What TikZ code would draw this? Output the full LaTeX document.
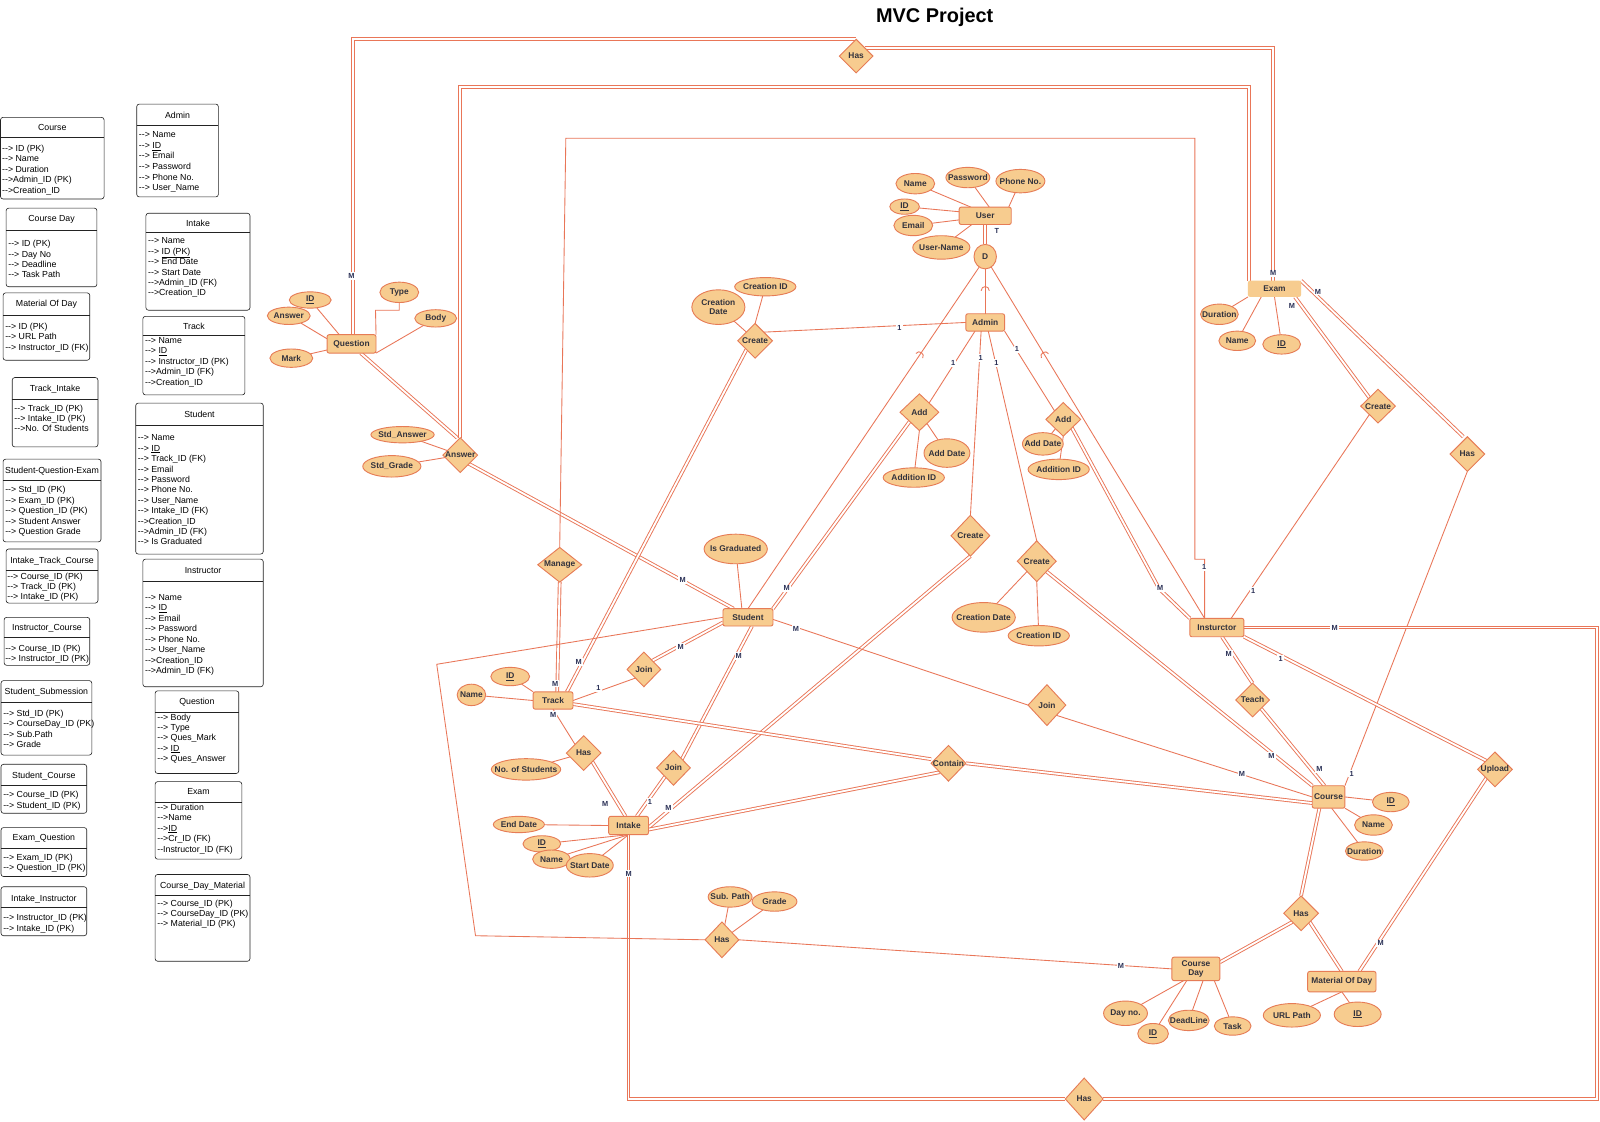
\documentclass[tikz,border=0pt]{standalone}
\usepackage{fontspec}
\setmainfont{Liberation Sans}[Ligatures=TeXOff]
\usetikzlibrary{shapes.geometric}
\pgfdeclarelayer{paper}
\pgfdeclarelayer{lines}
\pgfsetlayers{paper,lines,main}

\definecolor{efill}{RGB}{247,204,143}
\definecolor{ebord}{RGB}{230,124,86}
\definecolor{lnc}{RGB}{233,118,88}
\definecolor{etxt}{RGB}{50,50,60}
\definecolor{cardc}{RGB}{42,48,86}
\definecolor{tline}{RGB}{35,35,35}

\tikzset{
  shapebase/.style={draw=ebord, fill=efill, line width=0.9pt, inner sep=0pt, outer sep=0pt},
  ertext/.style={font=\fontsize{8.2}{9.4}\selectfont\bfseries, text=etxt, align=center, inner sep=0pt},
  ent/.style={shapebase, rectangle, rounded corners=2pt, ertext},
  attr/.style={shapebase, ellipse, label={[ertext]center:#1}},
  rel/.style={shapebase, diamond, label={[ertext]center:#1}},
  ln/.style={draw=lnc, line width=0.85pt},
  dbl/.style={draw=lnc, line width=0.9pt, double=white, double distance=1.8pt},
  crd/.style={font=\fontsize{7.2}{8}\selectfont\bfseries, text=cardc, fill=white, inner sep=1.2pt},
  tframe/.style={draw=tline, line width=0.6pt, rounded corners=2.5pt},
  tdiv/.style={draw=tline, line width=0.6pt},
  thead/.style={font=\fontsize{8.6}{9}\selectfont, text=black, inner sep=0pt, anchor=base},
  trow/.style={font=\fontsize{8.6}{9}\selectfont, text=black, inner sep=0pt, anchor=base west},
}

% relational table: name, x1, y1, x2, y2, header y, divider y, header text
\newcommand\dbtable[8]{%
  \draw[tframe] (#2,#3) rectangle (#4,#5);
  \draw[tdiv] (#2,#7) -- (#4,#7);
  \node[thead] (#1) at ({(#2+#4)/2},{#6+3}) {#8};
}
% table rows: name, x, first row y, row step, list of rows
\newcommand\dbrows[5]{%
  \foreach \rowtext [count=\ri] in {#5}
    \node[trow] (#1-\ri) at (#2,{#3+(\ri-1)*#4+3}) {\rowtext};
}

\begin{document}
\begin{tikzpicture}[x=1pt, y=-1pt]
\useasboundingbox (0,0) rectangle (1568,1099);
\begin{pgfonlayer}{paper}
  \fill[white] (0,0) rectangle (1568,1099);
\end{pgfonlayer}

\node[font=\fontsize{19.5}{20}\selectfont\bfseries, anchor=base] (title) at (916,22) {MVC Project};

% ---------------- relational tables ----------------
\dbtable{tcourse}{0.5}{115}{102}{195}{125}{135}{Course}
\dbrows{tcourse}{2}{145}{10.3}{{--> ID (PK)},{--> Name},{--> Duration},{-->Admin\_ID (PK)},{-->Creation\_ID}}

\dbtable{tadmin}{134}{102}{214}{193}{113}{123}{Admin}
\dbrows{tadmin}{136}{132}{10.4}{{--> Name},{--> \underline{ID}},{--> Email},{--> Password},{--> Phone No.},{--> User\_Name}}

\dbtable{tcday}{6}{204}{95}{281}{214}{226}{Course Day}
\dbrows{tcday}{8}{239}{10}{{--> ID (PK)},{--> Day No},{--> Deadline},{--> Task Path}}

\dbtable{tintake}{143}{209}{245}{304}{219}{228}{Intake}
\dbrows{tintake}{145}{236}{10.2}{{--> Name},{--> \underline{ID (PK)}},{--> End Date},{--> Start Date},{-->Admin\_ID (FK)},{-->Creation\_ID}}

\dbtable{tmod}{3}{287}{88}{353}{297}{309}{Material Of Day}
\dbrows{tmod}{5}{320}{10}{{--> ID (PK)},{--> URL Path},{--> Instructor\_ID (FK)}}

\dbtable{ttrack}{140}{310}{240}{387}{320}{329}{Track}
\dbrows{ttrack}{142}{333.5}{10.2}{{--> Name},{--> \underline{ID}},{--> Instructor\_ID (PK)},{-->Admin\_ID (FK)},{-->Creation\_ID}}

\dbtable{ttrin}{12}{370}{96}{438}{381}{391}{Track\_Intake}
\dbrows{ttrin}{14}{400}{10}{{--> Track\_ID (PK)},{--> Intake\_ID (PK)},{-->No. Of Students}}

\dbtable{tsqe}{3}{450}{99}{531}{461}{471}{Student-Question-Exam}
\dbrows{tsqe}{5}{480}{10.25}{{--> Std\_ID (PK)},{--> Exam\_ID (PK)},{--> Question\_ID (PK)},{--> Student Answer},{--> Question Grade}}

\dbtable{tstudent}{133}{395}{258}{543}{406}{417}{Student}
\dbrows{tstudent}{135}{429}{10.2}{{--> Name},{--> \underline{ID}},{--> Track\_ID (FK)},{--> Email},{--> Password},{--> Phone No.},{--> User\_Name},{--> Intake\_ID (FK)},{-->Creation\_ID},{-->Admin\_ID (FK)},{--> Is Graduated}}

\dbtable{titc}{6}{538}{96}{591}{549}{559}{Intake\_Track\_Course}
\dbrows{titc}{7}{564.5}{10.2}{{--> Course\_ID (PK)},{--> Track\_ID (PK)},{--> Intake\_ID (PK)}}

\dbtable{tinstr}{140}{548}{258}{673}{559}{570}{Instructor}
\dbrows{tinstr}{142}{585}{10.3}{{--> Name},{--> \underline{ID}},{--> Email},{--> Password},{--> Phone No.},{--> User\_Name},{-->Creation\_ID},{-->Admin\_ID (FK)}}

\dbtable{tic}{4}{605}{88}{652}{615}{625}{Instructor\_Course}
\dbrows{tic}{5}{635}{10.5}{{--> Course\_ID (PK)},{--> Instructor\_ID (PK)}}

\dbtable{tss}{1}{667}{90}{740}{678}{688}{Student\_Submession}
\dbrows{tss}{3}{699}{10.3}{{--> Std\_ID (PK)},{--> CourseDay\_ID (PK)},{--> Sub.Path},{--> Grade}}

\dbtable{tquestion}{152}{677}{234}{758}{687}{698}{Question}
\dbrows{tquestion}{154}{703}{10}{{--> Body},{--> Type},{--> Ques\_Mark},{--> \underline{ID}},{--> Ques\_Answer}}

\dbtable{tsc}{1}{749}{85}{797}{760}{770}{Student\_Course}
\dbrows{tsc}{3}{779}{10}{{--> Course\_ID (PK)},{--> Student\_ID (PK)}}

\dbtable{texam}{152}{766}{237}{842}{776}{786}{Exam}
\dbrows{texam}{154}{791}{10.25}{{--> Duration},{-->Name},{-->\underline{ID}},{-->Cr\_ID (FK)},{--Instructor\_ID (FK)}}

\dbtable{teq}{1}{811}{85}{859}{821}{831}{Exam\_Question}
\dbrows{teq}{3}{840}{10.5}{{--> Exam\_ID (PK)},{--> Question\_ID (PK)}}

\dbtable{tii}{1}{869}{85}{917}{880}{889}{Intake\_Instructor}
\dbrows{tii}{3}{899}{10.5}{{--> Instructor\_ID (PK)},{--> Intake\_ID (PK)}}

\dbtable{tcdm}{152}{857}{245}{942}{868}{877}{Course\_Day\_Material}
\dbrows{tcdm}{154}{885}{10}{{--> Course\_ID (PK)},{--> CourseDay\_ID (PK)},{--> Material\_ID (PK)}}

% ---------------- entities ----------------
\node[ent, minimum width=51, minimum height=17] (user) at (965.5,211.5) {User};
\node[ent, minimum width=38, minimum height=17] (admin) at (965.5,316) {Admin};
\node[ent, draw=none, minimum width=52, minimum height=16] (exam) at (1249,283) {Exam};
\node[ent, minimum width=48, minimum height=18] (question) at (344.5,337) {Question};
\node[ent, minimum width=49, minimum height=17] (student) at (733,605) {Student};
\node[ent, minimum width=39, minimum height=17] (track) at (542,686.5) {Track};
\node[ent, minimum width=39, minimum height=18] (intake) at (616,809) {Intake};
\node[ent, minimum width=53, minimum height=18] (instr) at (1192.5,615) {Insturctor};
\node[ent, minimum width=32, minimum height=22] (course) at (1302,781) {Course};
\node[ent, minimum width=47, minimum height=23] (cday) at (1172,949.5) {Course\\Day};
\node[ent, minimum width=67, minimum height=20] (mod) at (1315,962) {Material Of Day};

\node[shapebase, ellipse, minimum width=22, minimum height=24, label={[ertext]center:D}] (D) at (965.5,251.5) {};

% ---------------- relationships ----------------
\node[rel=Has, minimum width=33, minimum height=33] (hasTop) at (839,55) {};
\node[rel=Create, minimum width=34, minimum height=34] (createA) at (740,334) {};
\node[rel=Answer, minimum width=34, minimum height=34] (answer) at (451,446) {};
\node[rel=Manage, minimum width=43, minimum height=34] (manage) at (548.5,553.5) {};
\node[rel=Add, minimum width=38, minimum height=36] (addL) at (901,404) {};
\node[rel=Add, minimum width=34, minimum height=33] (addR) at (1042,411) {};
\node[rel=Create, minimum width=38, minimum height=40] (createM) at (951,525) {};
\node[rel=Create, minimum width=38, minimum height=40] (createR) at (1016,550) {};
\node[rel=Create, minimum width=34, minimum height=33] (createE) at (1350.5,398) {};
\node[rel=Has, minimum width=34, minimum height=34] (hasE) at (1438,445) {};
\node[rel=Join, minimum width=33, minimum height=34] (joinT) at (631,656) {};
\node[rel=Join, minimum width=37, minimum height=40] (joinC) at (1026,691) {};
\node[rel=Has, minimum width=34, minimum height=34] (hasTI) at (572,738) {};
\node[rel=Join, minimum width=33, minimum height=34] (joinI) at (660,752.5) {};
\node[rel=Contain, minimum width=34, minimum height=35] (contain) at (929.5,748) {};
\node[rel=Teach, minimum width=33, minimum height=33] (teach) at (1227.5,686) {};
\node[rel=Upload, minimum width=34, minimum height=34] (upload) at (1465,754) {};
\node[rel=Has, minimum width=33, minimum height=35] (hasSD) at (707.5,921) {};
\node[rel=Has, minimum width=34, minimum height=34] (hasC) at (1275,895) {};
\node[rel=Has, minimum width=37, minimum height=41] (hasB) at (1062.5,1077) {};

% ---------------- attributes ----------------
\node[attr=Name, minimum width=38, minimum height=20] (uname) at (897,180) {};
\node[attr=Password, minimum width=43, minimum height=20] (upass) at (948.5,174) {};
\node[attr=Phone No., minimum width=48, minimum height=23] (uphone) at (1000,177.5) {};
\node[attr=\underline{ID}, minimum width=29, minimum height=15] (uid) at (886.5,202.5) {};
\node[attr=Email, minimum width=38, minimum height=20] (uemail) at (895,221) {};
\node[attr=User-Name, minimum width=56, minimum height=23] (uuname) at (922.5,242.5) {};
\node[attr=Creation ID, minimum width=60, minimum height=18] (cid1) at (750,281) {};
\node[attr={Creation\\Date}, minimum width=52, minimum height=34] (cdate1) at (704,301) {};
\node[attr=\underline{ID}, minimum width=41, minimum height=16] (qid) at (304,294) {};
\node[attr=Answer, minimum width=42, minimum height=17] (qans) at (283,309.5) {};
\node[attr=Type, minimum width=38, minimum height=20] (qtype) at (391.3,286.5) {};
\node[attr=Body, minimum width=41, minimum height=17] (qbody) at (427,312) {};
\node[attr=Mark, minimum width=42, minimum height=18] (qmark) at (285.5,351) {};
\node[attr=Std\_Answer, minimum width=62, minimum height=16] (stdans) at (394.5,426) {};
\node[attr=Std\_Grade, minimum width=57, minimum height=21] (stdgrade) at (384,457) {};
\node[attr=Add Date, minimum width=45, minimum height=28] (adddateL) at (928,444) {};
\node[attr=Addition ID, minimum width=60, minimum height=19] (addidL) at (895.5,468) {};
\node[attr=Add Date, minimum width=40, minimum height=22] (adddateR) at (1022,435) {};
\node[attr=Addition ID, minimum width=60, minimum height=20] (addidR) at (1037.5,460) {};
\node[attr=Is Graduated, minimum width=62, minimum height=29] (isgrad) at (721,538) {};
\node[attr=Creation Date, minimum width=62, minimum height=29] (cdate2) at (964,605) {};
\node[attr=Creation ID, minimum width=60, minimum height=20] (cid2) at (1018,623) {};
\node[attr=Duration, minimum width=37, minimum height=20] (eduration) at (1195,308) {};
\node[attr=Name, minimum width=36, minimum height=19] (ename) at (1212.5,334) {};
\node[attr=\underline{ID}, minimum width=37, minimum height=19] (eid) at (1256,337.5) {};
\node[attr=\underline{ID}, minimum width=38, minimum height=18] (tid) at (500,663) {};
\node[attr=Name, minimum width=28, minimum height=21] (tname) at (462,681) {};
\node[attr=No. of Students, minimum width=68, minimum height=21] (nostd) at (515.5,754) {};
\node[attr=End Date, minimum width=50, minimum height=16] (enddate) at (508.5,808) {};
\node[attr=\underline{ID}, minimum width=37, minimum height=16] (iid) at (531,827) {};
\node[attr=Name, minimum width=37, minimum height=18] (iname) at (540.5,842) {};
\node[attr=Start Date, minimum width=46, minimum height=23] (startdate) at (578,848) {};
\node[attr=\underline{ID}, minimum width=36, minimum height=19] (crid) at (1363,786) {};
\node[attr=Name, minimum width=37, minimum height=20] (crname) at (1346,808.5) {};
\node[attr=Duration, minimum width=37, minimum height=18] (crdur) at (1337,834) {};
\node[attr=Grade, minimum width=44, minimum height=19] (grade) at (759,883.5) {};
\node[attr=Sub. Path, minimum width=43, minimum height=20] (subpath) at (715.5,879) {};
\node[attr=Day no., minimum width=43, minimum height=24] (dayno) at (1103,993) {};
\node[attr=\underline{ID}, minimum width=30, minimum height=20] (cdid) at (1130,1013) {};
\node[attr=DeadLine, minimum width=40, minimum height=20] (deadline) at (1165,1000) {};
\node[attr=Task, minimum width=36, minimum height=18] (task) at (1208,1005.5) {};
\node[attr=URL Path, minimum width=56, minimum height=23] (urlpath) at (1266,995) {};
\node[attr=\underline{ID}, minimum width=46, minimum height=24] (modid) at (1330.5,994) {};

% ---------------- connectors ----------------
\begin{pgfonlayer}{lines}
% attribute links
\draw[ln] (uname) -- ([xshift=-14pt]user.north);
\draw[ln] (upass) -- ([xshift=4pt]user.north);
\draw[ln] (uphone) -- ([xshift=23pt]user.north);
\draw[ln] (uid) -- ([yshift=4pt]user.west);
\draw[ln] (uemail) -- ([yshift=-4pt]user.west);
\draw[ln] (uuname) -- ([xshift=-13pt]user.south);
\draw[ln] (cid1) -- (createA.north);
\draw[ln] (cdate1) -- (createA.north west);
\draw[ln] (qid) -- ([xshift=-12pt]question.north);
\draw[ln] (qans) -- ([yshift=5pt]question.west);
\draw[ln] (qmark) -- ([yshift=-6pt]question.west);
\draw[ln] (qbody) -- (question.south east);
\draw[ln] (question.north east) -- (368,304) -| (qtype.south);
\draw[ln] (stdans) -- (answer);
\draw[ln] (stdgrade) -- (answer);
\draw[ln] (adddateL) -- (addL);
\draw[ln] (addidL) -- (addL.south);
\draw[ln] (adddateR) -- (addR);
\draw[ln] (addidR) -- (addR.south);
\draw[ln] (isgrad) -- ([xshift=-6pt]student.north);
\draw[ln] (cdate2) -- (createR);
\draw[ln] (cid2) -- (createR.south);
\draw[ln] (eduration) -- (exam.south west);
\draw[ln] (ename) -- ([xshift=-13pt]exam.south);
\draw[ln] (eid) -- (exam.south);
\draw[ln] (tid) -- (track.north west);
\draw[ln] (tname) -- (track.west);
\draw[ln] (nostd) -- (hasTI);
\draw[ln] (enddate) -- (intake.west);
\draw[ln] (iid) -- (intake.south);
\draw[ln] (iname) -- (intake.south);
\draw[ln] (startdate) -- (intake.south);
\draw[ln] (crid) -- (course.east);
\draw[ln] (crname) -- (course.south east);
\draw[ln] (crdur) -- ([xshift=3pt]course.south);
\draw[ln] (subpath) -- (hasSD);
\draw[ln] (grade) -- (hasSD);
\draw[ln] (dayno) -- ([xshift=-12pt]cday.south);
\draw[ln] (cdid) -- ([xshift=-9pt]cday.south);
\draw[ln] (deadline) -- ([xshift=7pt]cday.south);
\draw[ln] (task) -- ([xshift=18pt]cday.south);
\draw[ln] (urlpath) -- (mod.south);
\draw[ln] (modid) -- (mod.south);

% specialisation of User
\draw[dbl] (user.south) -- (D.north);
\draw[ln] (D.south) -- (admin.north);
\draw[ln] (D.240) -- (student.north);
\draw[ln] (D.300) -- ([xshift=-12pt]instr.north);
\draw[ln] (969.5,285) .. controls (969.5,279.5) and (961.5,279.5) .. (961.5,285);
\draw[ln] (904.2,350.9) .. controls (907.0,346.8) and (900.4,342.3) .. (897.6,346.4);
\draw[ln] (1027.5,346.6) .. controls (1024.9,342.4) and (1018.0,346.5) .. (1020.6,350.8);

% relationships
\draw[dbl] ([xshift=1.5pt]question.north) |- (hasTop.north);
\draw[dbl] (hasTop.north east) -| ([xshift=-1.5pt]exam.north);
\draw[dbl] (answer.north) |- (1224,85.5) -- ([xshift=1pt]exam.north west);
\draw[dbl] ([xshift=9pt]question.south) -- ([xshift=-3pt]answer.north);
\draw[dbl] (answer.south east) -- ([xshift=-14pt]student.north);
\draw[dbl] (manage.south) -- ([xshift=4pt]track.north);
\draw[ln] (manage.north) -- (554.5,135.5) -- (1171,135.5) -- (1171,548) -| ([xshift=-12pt]instr.north);
\draw[ln] (admin.west) -- (createA.north east);
\draw[dbl] (createA.south west) -- ([xshift=-6pt]track.north east);
\draw[ln] ([xshift=-10pt]admin.south) -- (addL.north east);
\draw[dbl] (addL.south west) -- (student.north east);
\draw[ln] ([xshift=-4pt]admin.south) -- (createM.north);
\draw[dbl] (createM.south) -- ([yshift=-2pt]intake.east);
\draw[ln] ([xshift=3pt]admin.south) -- (createR.north);
\draw[dbl] (createR.south east) -- (course.north west);
\draw[ln] (admin.south east) -- (addR.north west);
\draw[dbl] (addR.south east) -- (1136,577) -- (instr.north west);
\draw[dbl] ([xshift=-6pt]exam.south east) -- (createE.north west);
\draw[ln] (createE.south west) -- ([xshift=14pt]instr.north);
\draw[dbl] (exam.north east) -- ([xshift=-4pt]hasE.north);
\draw[ln] (hasE.south) -- (course.north east);
\draw[dbl] (instr.east) -- (1565,615) -- (1565,1077) -- (hasB.east);
\draw[dbl] (hasB.west) -| (intake.south);
\draw[dbl] ([xshift=5pt]instr.south) -- (teach.north);
\draw[dbl] (teach.south east) -- ([xshift=-4pt]course.north);
\draw[dbl] (instr.south east) -- (upload.north west);
\draw[dbl] (upload.south west) -- ([xshift=17pt]mod.north);
\draw[dbl] ([yshift=-5pt]student.west) -- (joinT.north east);
\draw[ln] (joinT.south west) -- (track.east);
\draw[ln] ([yshift=-2pt]student.east) -- (joinC.west);
\draw[ln] (joinC.south east) -- (course.west);
\draw[dbl] ([xshift=4pt]student.south) -- (joinI.north east);
\draw[dbl] (joinI.south west) -- ([xshift=8pt]intake.north);
\draw[ln] (track.south) -- (hasTI.north west);
\draw[dbl] (hasTI.south east) -- ([xshift=-3pt]intake.north);
\draw[dbl] ([yshift=-3.5pt]track.east) -- ([yshift=4pt]contain.west);
\draw[dbl] ([yshift=-4pt]intake.east) -- (contain.south west);
\draw[dbl] (contain.east) -- ([yshift=-6pt]course.west);
\draw[ln] (student.west) -- (428,651) -- (466,917) -- (hasSD.west);
\draw[ln] (hasSD.east) -- (cday.west);
\draw[dbl] ([xshift=-9pt]course.south) -- (hasC.north);
\draw[dbl] (hasC.south west) -- ([yshift=-5pt]cday.north east);
\draw[dbl] (hasC.south east) -- (mod.north);
\end{pgfonlayer}

% ---------------- cardinalities ----------------
\node[crd] (k1) at (344.5,270.5) {M};
\node[crd] (k2) at (1247.6,268) {M};
\node[crd] (k3) at (1291.5,285.8) {M};
\node[crd] (k4) at (1266,299.6) {M};
\node[crd] (k5) at (669,568.5) {M};
\node[crd, fill=none] (k6) at (977,226.4) {T};
\node[crd] (k7) at (881.5,321.8) {1};
\node[crd] (k8) at (934,355.5) {1};
\node[crd] (k9) at (961,351) {1};
\node[crd] (k10) at (976.5,355.5) {1};
\node[crd] (k11) at (996.5,342.3) {1};
\node[crd] (k12) at (771,576.5) {M};
\node[crd] (k13) at (567,649) {M};
\node[crd] (k14) at (544,670) {M};
\node[crd] (k15) at (586.5,674.5) {1};
\node[crd] (k16) at (667,634) {M};
\node[crd] (k17) at (780,616) {M};
\node[crd] (k18) at (724,643) {M};
\node[crd] (k19) at (542,700.5) {M};
\node[crd] (k20) at (593,788) {M};
\node[crd] (k21) at (637,786) {1};
\node[crd] (k22) at (655,792) {M};
\node[crd] (k23) at (616,856) {M};
\node[crd] (k24) at (1180,556) {1};
\node[crd] (k25) at (1137,576.5) {M};
\node[crd] (k26) at (1228,579) {1};
\node[crd] (k27) at (1308,615) {M};
\node[crd] (k28) at (1204,641) {M};
\node[crd] (k29) at (1255,646) {1};
\node[crd] (k30) at (1246,740.5) {M};
\node[crd] (k31) at (1217,758) {M};
\node[crd] (k32) at (1293,753.5) {M};
\node[crd] (k33) at (1324.5,758) {1};
\node[crd] (k34) at (1098.5,946.7) {M};
\node[crd] (k35) at (1353,924.5) {M};
\end{tikzpicture}
\end{document}
